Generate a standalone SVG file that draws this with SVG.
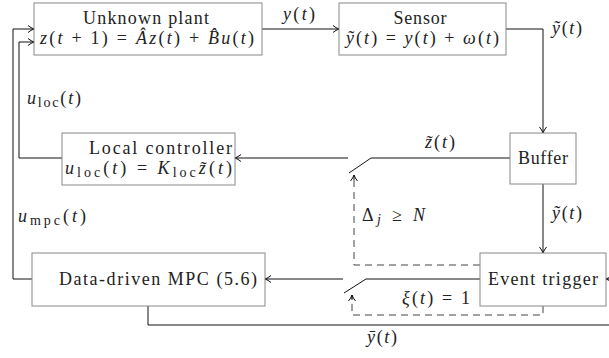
<svg xmlns="http://www.w3.org/2000/svg" width="609" height="358" viewBox="0 0 609 358">
<style>
.box{fill:#fff;stroke:#888;stroke-width:1}
.ln{fill:none;stroke:#111;stroke-width:1}
.dash{fill:none;stroke:#444;stroke-width:1;stroke-dasharray:7 5}
text{font-family:"Liberation Serif","DejaVu Serif",serif;font-size:18px;fill:#222}
.m{font-style:italic}
.r{font-style:normal}
.s{font-size:14px}
</style>
<defs>
<marker id="ar" viewBox="0 0 8 8" refX="7" refY="4" markerWidth="8" markerHeight="8" markerUnits="userSpaceOnUse" orient="auto">
<path d="M1,0.5 Q4,3 7,4 Q4,5 1,7.5" fill="none" stroke="#111" stroke-width="1"/>
</marker>
</defs>
<g id="connectors">
<path class="ln" d="M262,29 H339" marker-end="url(#ar)"/>
<path class="ln" d="M506,29 H543 V133" marker-end="url(#ar)"/>
<path class="ln" d="M510,158 H371 L349,173"/>
<path class="ln" d="M348,158 H235" marker-end="url(#ar)"/>
<path class="ln" d="M62,158 H19 V42 H34" marker-end="url(#ar)"/>
<path class="ln" d="M32,279 H13 V29 H34" marker-end="url(#ar)"/>
<path class="ln" d="M543,184 V253" marker-end="url(#ar)"/>
<path class="ln" d="M480,279 H366 L344,293"/>
<path class="ln" d="M343,279 H265" marker-end="url(#ar)"/>
<path class="ln" d="M609,279 H606" marker-end="url(#ar)"/>
<path class="ln" d="M148,306 V325 H609"/>
<path class="dash" d="M480,265 H354 V175"/>
<path class="ln" d="M354,180 V175" marker-end="url(#ar)"/>
<path class="dash" d="M543,306 V315 H352 V295"/>
<path class="ln" d="M352,300 V295" marker-end="url(#ar)"/>
</g>
<g id="plant">
<rect class="box" x="34" y="3" width="228" height="52"/>
<text x="146" y="24" text-anchor="middle" textLength="126">Unknown plant</text>
<text x="40" y="44" class="m" textLength="214">z<tspan class="r">(</tspan>t<tspan class="r"> + 1) = </tspan>Âz<tspan class="r">(</tspan>t<tspan class="r">) + </tspan>B̂u<tspan class="r">(</tspan>t<tspan class="r">)</tspan></text>
</g>
<g id="sensor">
<rect class="box" x="339" y="3" width="167" height="52"/>
<text x="420" y="24" text-anchor="middle" textLength="53">Sensor</text>
<text x="346" y="44" class="m" textLength="153">ỹ<tspan class="r">(</tspan>t<tspan class="r">) = </tspan>y<tspan class="r">(</tspan>t<tspan class="r">) + </tspan>ω<tspan class="r">(</tspan>t<tspan class="r">)</tspan></text>
</g>
<g id="buffer">
<rect class="box" x="510" y="133" width="66" height="51"/>
<text x="543" y="164" text-anchor="middle" textLength="50">Buffer</text>
</g>
<g id="local-controller">
<rect class="box" x="62" y="133" width="173" height="52"/>
<text x="89" y="154" textLength="143">Local controller</text>
<text x="65" y="174" class="m" textLength="167">u<tspan class="r s" dy="3">loc</tspan><tspan class="r" dy="-3">(</tspan>t<tspan class="r">) = </tspan>K<tspan class="r s" dy="3">loc</tspan><tspan dy="-3">z̃</tspan><tspan class="r">(</tspan>t<tspan class="r">)</tspan></text>
</g>
<g id="mpc">
<rect class="box" x="32" y="253" width="233" height="53"/>
<text x="59" y="285" textLength="198">Data-driven MPC (5.6)</text>
</g>
<g id="event-trigger">
<rect class="box" x="480" y="253" width="126" height="53"/>
<text x="488" y="285" textLength="110">Event trigger</text>
</g>
<g id="labels">
<text x="283" y="20" class="m" textLength="32">y<tspan class="r">(</tspan>t<tspan class="r">)</tspan></text>
<text x="552" y="34" class="m" textLength="30">ỹ<tspan class="r">(</tspan>t<tspan class="r">)</tspan></text>
<text x="27" y="104" class="m" textLength="54">u<tspan class="r s" dy="3">loc</tspan><tspan class="r" dy="-3">(</tspan>t<tspan class="r">)</tspan></text>
<text x="18" y="222" class="m" textLength="68">u<tspan class="r s" dy="3">mpc</tspan><tspan class="r" dy="-3">(</tspan>t<tspan class="r">)</tspan></text>
<text x="425" y="148" class="m" textLength="30">z̃<tspan class="r">(</tspan>t<tspan class="r">)</tspan></text>
<text x="362" y="221" class="m" textLength="63"><tspan class="r">Δ</tspan><tspan class="s" dy="3">j</tspan><tspan class="r" dy="-3"> ≥ </tspan>N</text>
<text x="552" y="219" class="m" textLength="30">ỹ<tspan class="r">(</tspan>t<tspan class="r">)</tspan></text>
<text x="402" y="304" class="m" textLength="68">ξ<tspan class="r">(</tspan>t<tspan class="r">) = 1</tspan></text>
<text x="367" y="343" class="m" textLength="30">ȳ<tspan class="r">(</tspan>t<tspan class="r">)</tspan></text>
</g>
</svg>
